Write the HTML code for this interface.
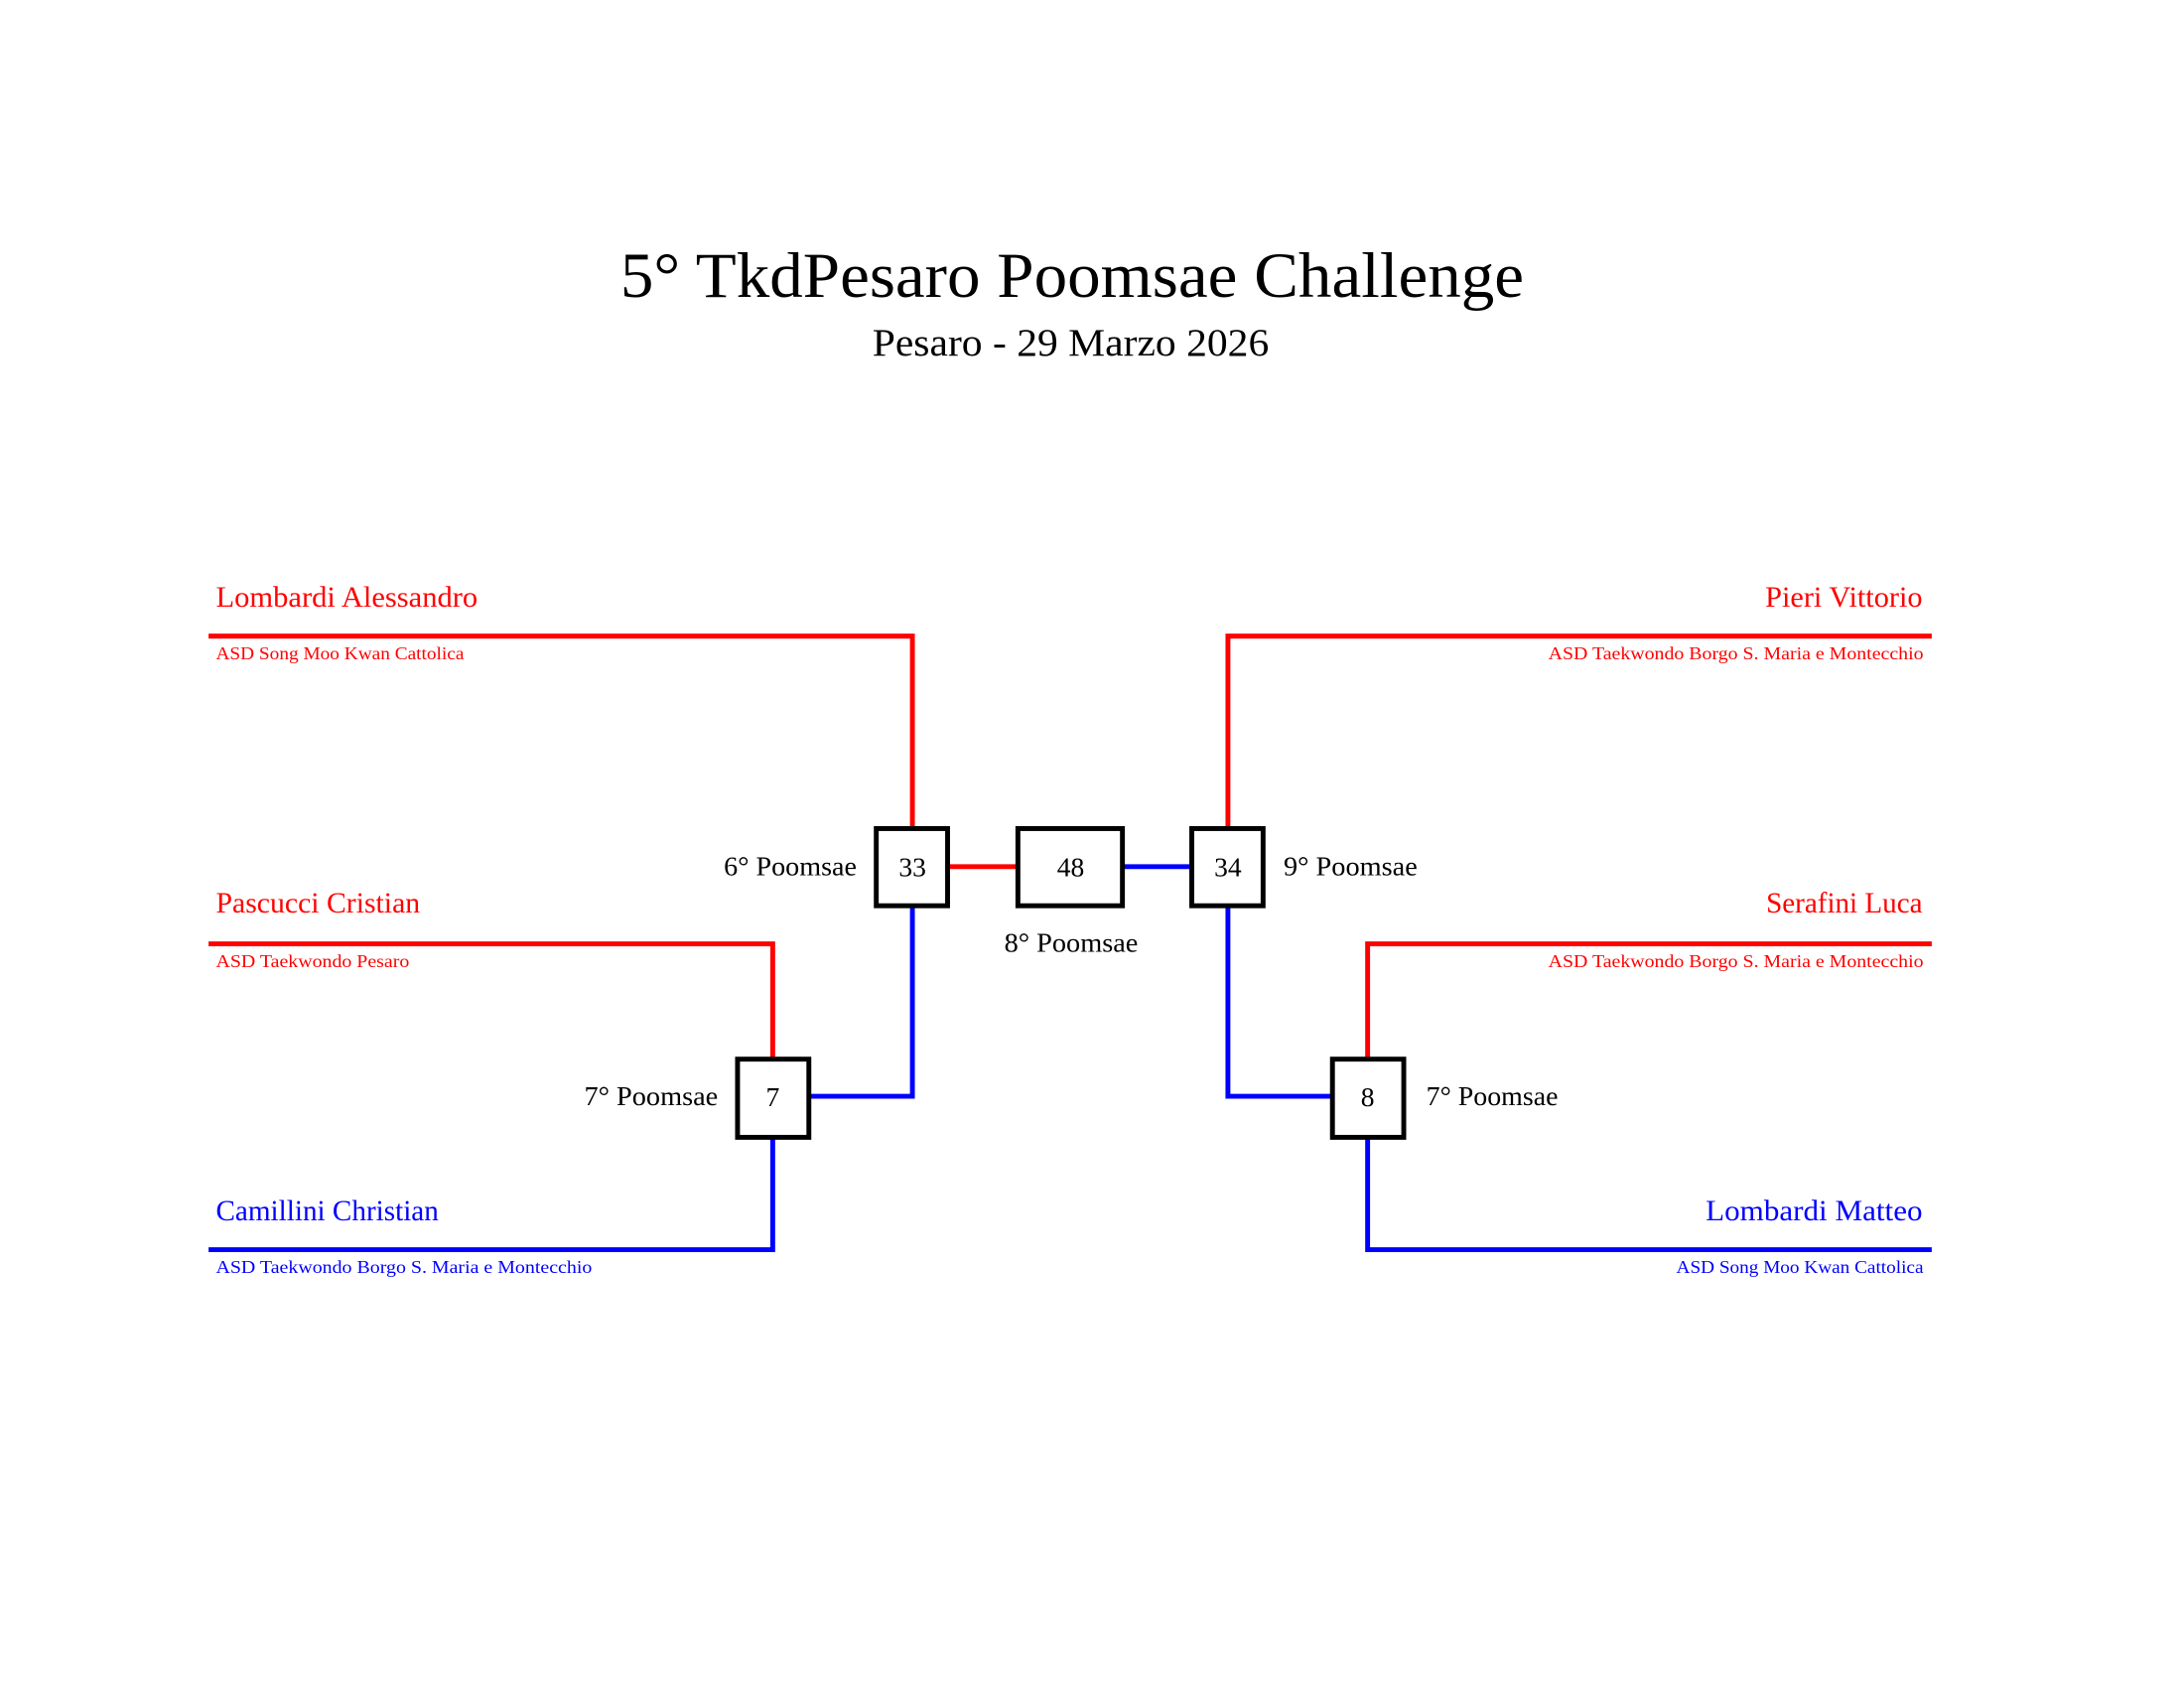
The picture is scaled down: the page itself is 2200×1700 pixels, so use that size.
<!DOCTYPE html>
<html><head><meta charset="utf-8"><style>
html,body{margin:0;padding:0;background:#fff;}
svg{display:block;}
text{font-family:"Liberation Serif",serif;}
</style></head><body>
<svg width="2200" height="1700" viewBox="0 0 2200 1700" xmlns="http://www.w3.org/2000/svg">
<rect width="2200" height="1700" fill="#fff"/>
<g transform="translate(2,2) scale(0.984)">
<text x="633" y="302" font-size="66" textLength="925" lengthAdjust="spacingAndGlyphs">5° TkdPesaro Poomsae Challenge</text>
<text x="891" y="362" font-size="40" textLength="406" lengthAdjust="spacingAndGlyphs">Pesaro - 29 Marzo 2026</text>

<g fill="none" stroke-width="5" stroke-linecap="square">
<polyline points="214,649 932,649 932,846" stroke="#f00"/>
<polyline points="214,964 789,964 789,1082" stroke="#f00"/>
<line x1="968" y1="885" x2="1040" y2="885" stroke="#f00"/>
<polyline points="214,1277 789,1277 789,1162" stroke="#00f"/>
<polyline points="826,1120 932,1120 932,925" stroke="#00f"/>
<line x1="1147" y1="885" x2="1218" y2="885" stroke="#00f"/>
<polyline points="1973,649 1255,649 1255,846" stroke="#f00"/>
<polyline points="1973,964 1398,964 1398,1082" stroke="#f00"/>
<polyline points="1973,1277 1398,1277 1398,1162" stroke="#00f"/>
<polyline points="1255,925 1255,1120 1362,1120" stroke="#00f"/>
</g>
<g fill="#fff" stroke="#000" stroke-width="5">
<rect x="895" y="846" width="73" height="79"/>
<rect x="1040" y="846" width="107" height="79"/>
<rect x="1218" y="846" width="73" height="79"/>
<rect x="753" y="1082" width="73" height="80"/>
<rect x="1362" y="1082" width="73" height="80"/>
</g>
<g font-size="28" text-anchor="middle" fill="#000">
<text x="932" y="895">33</text>
<text x="1094" y="895">48</text>
<text x="1255" y="895">34</text>
<text x="789" y="1130">7</text>
<text x="1398" y="1130">8</text>
</g>
<g font-size="28" fill="#000">
<text x="739" y="894" textLength="136" lengthAdjust="spacingAndGlyphs">6° Poomsae</text>
<text x="1026" y="972" textLength="137" lengthAdjust="spacingAndGlyphs">8° Poomsae</text>
<text x="1312" y="894" textLength="137" lengthAdjust="spacingAndGlyphs">9° Poomsae</text>
<text x="596" y="1129" textLength="137" lengthAdjust="spacingAndGlyphs">7° Poomsae</text>
<text x="1458" y="1129" textLength="135" lengthAdjust="spacingAndGlyphs">7° Poomsae</text>
</g>
<g font-size="30">
<text x="219" y="619" fill="#f00" textLength="268" lengthAdjust="spacingAndGlyphs">Lombardi Alessandro</text>
<text x="219" y="932" fill="#f00" textLength="209" lengthAdjust="spacingAndGlyphs">Pascucci Cristian</text>
<text x="219" y="1247" fill="#00f" textLength="228" lengthAdjust="spacingAndGlyphs">Camillini Christian</text>
<text x="1805" y="619" fill="#f00" textLength="161" lengthAdjust="spacingAndGlyphs">Pieri Vittorio</text>
<text x="1806" y="932" fill="#f00" textLength="160" lengthAdjust="spacingAndGlyphs">Serafini Luca</text>
<text x="1744" y="1247" fill="#00f" textLength="222" lengthAdjust="spacingAndGlyphs">Lombardi Matteo</text>
</g>
<g font-size="18">
<text x="219" y="673" fill="#f00" textLength="254" lengthAdjust="spacingAndGlyphs">ASD Song Moo Kwan Cattolica</text>
<text x="219" y="988" fill="#f00" textLength="198" lengthAdjust="spacingAndGlyphs">ASD Taekwondo Pesaro</text>
<text x="219" y="1301" fill="#00f" textLength="385" lengthAdjust="spacingAndGlyphs">ASD Taekwondo Borgo S. Maria e Montecchio</text>
<text x="1583" y="673" fill="#f00" textLength="384" lengthAdjust="spacingAndGlyphs">ASD Taekwondo Borgo S. Maria e Montecchio</text>
<text x="1583" y="988" fill="#f00" textLength="384" lengthAdjust="spacingAndGlyphs">ASD Taekwondo Borgo S. Maria e Montecchio</text>
<text x="1714" y="1301" fill="#00f" textLength="253" lengthAdjust="spacingAndGlyphs">ASD Song Moo Kwan Cattolica</text>
</g>
</g>
</svg>
</body></html>
